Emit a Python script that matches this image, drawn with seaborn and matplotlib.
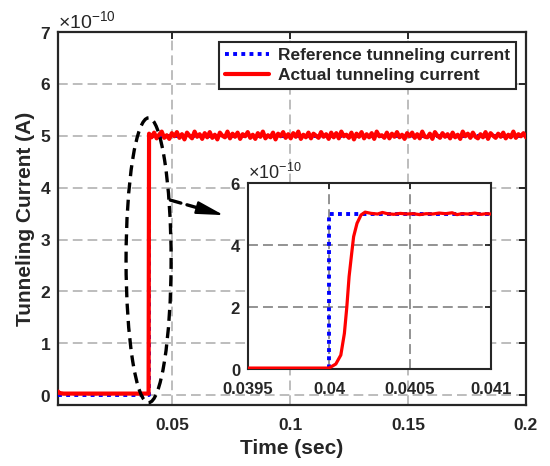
import numpy as np
import pandas as pd
import matplotlib
matplotlib.use("Agg")
import matplotlib.pyplot as plt
import seaborn as sns
from matplotlib.patches import Ellipse
from matplotlib.ticker import ScalarFormatter

sns.set_theme(style="white")
plt.rcParams["font.family"] = ["Liberation Sans", "DejaVu Sans"]
plt.rcParams["font.weight"] = "bold"
plt.rcParams["mathtext.fontset"] = "custom"
plt.rcParams["mathtext.rm"] = "Liberation Sans"
plt.rcParams["mathtext.default"] = "regular"

# ---------------- data ----------------
SCALE = 1e-10
# reference (desired) tunneling current
ref_time = [0.0016, 0.0400, 0.0400, 0.2000]
ref_current = [0.0, 0.0, 5.0, 5.0]

# actual tunneling current: pre-step part
act_pre_time = [0.0016, 0.0022, 0.0040, 0.0400]
act_pre_current = [0.07, 0.04, 0.03, 0.03]
# actual tunneling current: steady-state samples (x1e-10) after the step
act_steady = [
    5.04, 4.97, 5.06, 4.95, 5.02, 5.08, 4.96, 5.01, 4.94, 5.05,
    4.99, 5.07, 4.96, 5.03, 4.93, 5.06, 5.00, 4.95, 5.08, 4.98,
    5.03, 4.94, 5.05, 4.97, 5.07, 4.96, 5.02, 4.93, 5.06, 5.00,
    4.97, 5.08, 4.95, 5.04, 4.98, 5.06, 4.94, 5.03, 4.99, 5.07,
    4.96, 5.02, 4.94, 5.05, 4.98, 5.08, 4.95, 5.01, 4.97, 5.06,
    4.93, 5.04, 4.99, 5.07, 4.96, 5.03, 4.95, 5.05, 4.98, 5.08,
    4.94, 5.02, 4.97, 5.06, 4.95, 5.04, 5.00, 4.96, 5.07, 4.98,
    5.03, 4.94, 5.06, 4.97, 5.05, 4.95, 5.08, 4.99, 5.02, 4.96,
    5.06, 4.93, 5.04, 4.98, 5.07, 4.95, 5.03, 4.97, 5.05, 4.94,
    5.08, 4.99, 5.01, 4.96, 5.06, 4.95, 5.04, 4.98, 5.07, 4.97,
    5.02, 4.94, 5.05, 4.99, 5.06, 4.96, 5.03, 4.95, 5.08, 4.98,
    4.97, 5.04, 4.94, 5.07, 5.00, 4.96, 5.05, 4.98, 5.03, 4.95,
    5.06, 4.97, 5.02, 4.94, 5.08, 4.99, 5.04, 4.96, 5.06, 4.98,
    4.95, 5.03, 4.97, 5.07, 4.94, 5.05, 5.00, 4.96, 5.04, 4.98,
    5.06, 4.95, 5.02, 4.97, 5.08, 4.96, 5.03, 4.99, 5.05, 4.97,
]
act_steady_start, act_steady_end = 0.0402, 0.2000

# zoomed view of the step (inset)
inset_ref_time = [0.0395, 0.0400, 0.0400, 0.0410]
inset_ref_current = [0.0, 0.0, 5.0, 5.0]
inset_act_time = [0.03950, 0.04000, 0.040042, 0.040073, 0.040095, 0.040110,
                  0.040124, 0.040140, 0.040152, 0.040173, 0.040198, 0.040223,
                  0.040260, 0.040300, 0.040330, 0.040360, 0.040400, 0.040440,
                  0.040480, 0.040520, 0.040560, 0.040600, 0.040640, 0.040680,
                  0.040720, 0.040760, 0.040790, 0.040820, 0.040860, 0.040900,
                  0.040940, 0.040970, 0.041000]
inset_act_current = [0.03, 0.03, 0.16, 0.45, 1.15, 2.00,
                     2.98, 3.73, 4.27, 4.70, 4.97, 5.06,
                     5.02, 5.00, 5.05, 5.01, 4.99, 5.02,
                     5.00, 5.01, 4.98, 5.01, 5.00, 5.03,
                     5.01, 5.04, 4.98, 5.01, 5.00, 5.03,
                     4.99, 5.01, 5.00]

x_ticks = [0.05, 0.1, 0.15, 0.2]
x_ticklabels = ["0.05", "0.1", "0.15", "0.2"]
y_ticks = [0, 1, 2, 3, 4, 5, 6, 7]
inset_x_ticks = [0.0395, 0.04, 0.0405, 0.041]
inset_x_ticklabels = ["0.0395", "0.04", "0.0405", "0.041"]
inset_y_ticks = [0, 2, 4, 6]

labels = ["Reference tunneling current", "Actual tunneling current"]

# ---------------- frames ----------------
df_ref = pd.DataFrame({"t": ref_time, "i": np.array(ref_current) * SCALE})
act_time = list(act_pre_time) + list(np.linspace(act_steady_start, act_steady_end, len(act_steady)))
act_cur = list(act_pre_current) + list(act_steady)
df_act = pd.DataFrame({"t": act_time, "i": np.array(act_cur) * SCALE})
df_iref = pd.DataFrame({"t": inset_ref_time, "i": np.array(inset_ref_current) * SCALE})
df_iact = pd.DataFrame({"t": inset_act_time, "i": np.array(inset_act_current) * SCALE})

# ---------------- figure ----------------
W, H = 550, 466
fig = plt.figure(figsize=(W / 100, H / 100), dpi=100)
fig.patch.set_facecolor("white")
ax = fig.add_axes([58 / W, 1 - 405 / H, (526 - 58) / W, (405 - 32) / H])

TXT = "#262626"
BLUE = "#0000ff"
RED = "#ff0000"
dot_ls = (0, (1, 1.1))
dash_ls = (0, (3.3, 1.9))

sns.lineplot(data=df_ref, x="t", y="i", ax=ax, color=BLUE, linewidth=2.8,
             linestyle=dot_ls, estimator=None, sort=False, zorder=3)
sns.lineplot(data=df_act, x="t", y="i", ax=ax, color=RED, linewidth=3.0,
             estimator=None, sort=False, zorder=4)

ax.set_xlim(0.0016, 0.2)
ax.set_ylim(-0.19 * SCALE, 7 * SCALE)
ax.set_xticks(x_ticks)
ax.set_xticklabels(x_ticklabels)
ax.set_yticks([v * SCALE for v in y_ticks])
fmt = ScalarFormatter(useMathText=True)
fmt.set_powerlimits((0, 0))
ax.yaxis.set_major_formatter(fmt)
ax.yaxis.get_offset_text().set_fontsize(14)
ax.yaxis.get_offset_text().set_fontweight("normal")
ax.yaxis.get_offset_text().set_color(TXT)

ax.grid(True, color="#bdbdbd", linewidth=1.4, linestyle=(0, (5, 2.6)))
ax.set_axisbelow(True)
for s in ax.spines.values():
    s.set_color(TXT)
    s.set_linewidth(1.6)
    s.set_visible(True)
ax.tick_params(axis="both", direction="in", length=5, width=1.4, colors=TXT,
               labelsize=12.5, top=True, right=True)
ax.tick_params(axis="x", pad=9)
ax.tick_params(axis="y", pad=5)
for lab in ax.get_xticklabels() + ax.get_yticklabels():
    lab.set_fontweight("bold")
ax.set_xlabel("Time (sec)", fontsize=15, fontweight="bold", color=TXT, labelpad=5)
ax.set_ylabel("Tunneling Current (A)", fontsize=15, fontweight="bold", color=TXT, labelpad=3)

leg = ax.legend(ax.lines[:2], labels, loc="upper right", fancybox=False,
                framealpha=1, edgecolor=TXT, prop={"weight": "bold", "size": 12.5},
                handlelength=2.5, handletextpad=0.55, borderaxespad=0.55,
                labelspacing=0.3, borderpad=0.35)
leg.get_frame().set_linewidth(1.5)
leg.set_zorder(10)

# dashed ellipse highlighting the step and dashed arrow to the inset
ell = Ellipse((0.0400, 2.6 * SCALE), width=0.0191, height=5.49 * SCALE,
              fill=False, edgecolor="black", linewidth=2.4,
              linestyle=dash_ls, zorder=6, clip_on=False)
ax.add_patch(ell)
# arrow shaft (dashed) and solid arrow head
ax.annotate("", xy=(0.0655, 3.55 * SCALE), xytext=(0.0492, 3.76 * SCALE),
            arrowprops=dict(arrowstyle="-", linestyle=dash_ls, lw=2.4,
                            color="black", shrinkA=0, shrinkB=0), zorder=6)
ax.annotate("", xy=(0.0718, 3.47 * SCALE), xytext=(0.0640, 3.57 * SCALE),
            arrowprops=dict(arrowstyle="-|>,head_length=1.4,head_width=0.33",
                            lw=1.5, color="black", shrinkA=0, shrinkB=0), zorder=6)

# ---------------- inset ----------------
ins = fig.add_axes([248 / W, 1 - 369 / H, (491 - 248) / W, (369 - 183) / H])
ins.set_facecolor("white")
sns.lineplot(data=df_iref, x="t", y="i", ax=ins, color=BLUE, linewidth=2.8,
             linestyle=dot_ls, estimator=None, sort=False, zorder=3)
sns.lineplot(data=df_iact, x="t", y="i", ax=ins, color=RED, linewidth=2.3,
             estimator=None, sort=False, zorder=4)
ins.set_xlim(0.0395, 0.041)
ins.set_ylim(0, 6 * SCALE)
ins.set_xticks(inset_x_ticks)
ins.set_xticklabels(inset_x_ticklabels)
ins.set_yticks([v * SCALE for v in inset_y_ticks])
fmt2 = ScalarFormatter(useMathText=True)
fmt2.set_powerlimits((0, 0))
ins.yaxis.set_major_formatter(fmt2)
ins.yaxis.get_offset_text().set_fontsize(13)
ins.yaxis.get_offset_text().set_fontweight("normal")
ins.yaxis.get_offset_text().set_color(TXT)
ins.grid(True, color="#8a8a8a", linewidth=1.3, linestyle=(0, (5.5, 2.8)))
ins.set_axisbelow(True)
for s in ins.spines.values():
    s.set_color(TXT)
    s.set_linewidth(1.5)
    s.set_visible(True)
ins.tick_params(axis="both", direction="in", length=4, width=1.3, colors=TXT,
                labelsize=12, top=True, right=True)
ins.tick_params(axis="x", pad=9)
ins.tick_params(axis="y", pad=5)
for lab in ins.get_xticklabels() + ins.get_yticklabels():
    lab.set_fontweight("bold")
ins.set_xlabel("")
ins.set_ylabel("")

fig.savefig("out.png", dpi=100, facecolor="white")
